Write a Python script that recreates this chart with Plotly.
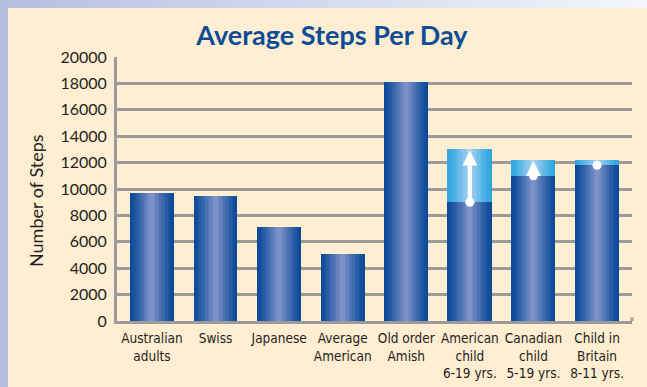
import plotly.graph_objects as go

# Chart data
categories = [
    "Australian<br>adults", "Swiss", "Japanese", "Average<br>American",
    "Old order<br>Amish", "American<br>child<br>6-19 yrs.",
    "Canadian<br>child<br>5-19 yrs.", "Child in<br>Britain<br>8-11 yrs.",
]
steps_low = [9700, 9500, 7100, 5100, 18100, 9000, 11000, 11800]
steps_high = [None, None, None, None, None, 13000, 12200, 12200]
y_ticks = [0, 2000, 4000, 6000, 8000, 10000, 12000, 14000, 16000, 18000, 20000]
y_tick_labels = [str(v) for v in y_ticks]

x_pos = list(range(len(categories)))
BAR_W = 0.69
N_STRIPS = 22


def lerp(c1, c2, t):
    return "rgb(%d,%d,%d)" % tuple(round(a + (b - a) * t) for a, b in zip(c1, c2))


def strip_color(i, edge, center):
    # light in the middle, darker toward both edges
    t = 1 - abs((i + 0.5) / N_STRIPS - 0.5) * 2
    return lerp(edge, center, t ** 1.2)


DARK_EDGE, DARK_CENTER = (8, 72, 152), (132, 149, 202)
LIGHT_EDGE, LIGHT_CENTER = (44, 165, 224), (172, 212, 243)

fig = go.Figure()
sw = BAR_W / N_STRIPS

# main bars as vertical gradient strips
for i in range(N_STRIPS):
    fig.add_trace(go.Bar(
        x=x_pos, y=steps_low, width=sw, offset=-BAR_W / 2 + i * sw,
        marker=dict(color=strip_color(i, DARK_EDGE, DARK_CENTER), line=dict(width=0)),
        hoverinfo="skip", showlegend=False,
    ))

# range extensions for the children's studies
range_x = [x for x, h in zip(x_pos, steps_high) if h is not None]
range_base = [l for l, h in zip(steps_low, steps_high) if h is not None]
range_top = [h for h in steps_high if h is not None]
range_len = [h - l for l, h in zip(range_base, range_top)]
for i in range(N_STRIPS):
    fig.add_trace(go.Bar(
        x=range_x, y=range_len, base=range_base, width=sw,
        offset=-BAR_W / 2 + i * sw,
        marker=dict(color=strip_color(i, LIGHT_EDGE, LIGHT_CENTER), line=dict(width=0)),
        hoverinfo="skip", showlegend=False,
    ))

# white dots at the low end of each range
fig.add_trace(go.Scatter(
    x=range_x, y=range_base, mode="markers",
    marker=dict(color="white", size=9, line=dict(width=0)),
    hoverinfo="skip", showlegend=False,
))

# white arrows pointing to the upper end of each range
for x, lo, hi in zip(range_x, range_base, range_top):
    fig.add_annotation(
        x=x, y=hi - 80, ax=x, ay=lo, xref="x", yref="y", axref="x", ayref="y",
        text="", showarrow=True, arrowhead=2, arrowsize=0.75, arrowwidth=4,
        arrowcolor="white", standoff=0, startstandoff=0,
    )

GRID = "#9b9b9b"
fig.update_layout(
    width=647, height=387,
    margin=dict(l=117, r=15, t=57, b=66),
    paper_bgcolor="#ffeed1", plot_bgcolor="#ffeed1",
    barmode="overlay", bargap=0,
    title=dict(
        text="<b>Average Steps Per Day</b>", x=0.513, xref="container",
        y=1 - 36 / 387, yref="container", xanchor="center", yanchor="middle",
        font=dict(family="Lato, Open Sans, sans-serif", size=27, color="#0e4c96"),
    ),
    xaxis=dict(
        range=[-0.55, 7.55], tickmode="array", tickvals=x_pos, ticktext=categories,
        showgrid=False, zeroline=False, showline=True, linecolor=GRID, linewidth=3,
        ticks="", ticklabelstandoff=3, automargin=False,
        tickfont=dict(family="Liberation Sans Narrow, DejaVu Sans Condensed, sans-serif",
                      size=13.5, color="#1e1e1e"),
    ),
    yaxis=dict(
        range=[0, 20000], tickmode="array", tickvals=y_ticks, ticktext=y_tick_labels,
        showgrid=True, gridcolor=GRID, gridwidth=3, zeroline=False, automargin=False,
        showline=True, linecolor=GRID, linewidth=3, ticks="", ticklabelstandoff=4,
        tickfont=dict(family="Lato, Open Sans, sans-serif", size=16, color="#231f20"),
    ),
    annotations=list(fig.layout.annotations) + [dict(
        text="Number of Steps", textangle=-90, xref="paper", yref="paper",
        x=(36 - 117) / 515, y=(321 - 201) / 264, xanchor="center", yanchor="middle",
        showarrow=False,
        font=dict(family="Lato, Open Sans, sans-serif", size=18, color="#231f20"),
    )],
)

# outer frame: lavender strip on the left, fading strip across the top
shapes = [dict(type="rect", xref="paper", yref="paper", layer="above",
               x0=-117 / 515, x1=(8 - 117) / 515, y0=-66 / 264, y1=(387 - 66) / 264,
               fillcolor="#b3bddf", line=dict(width=0))]
N_TOP = 40
for k in range(N_TOP):
    px0 = 8 + k * (639 / N_TOP)
    px1 = 8 + (k + 1) * (639 / N_TOP) + 0.5
    shapes.append(dict(
        type="rect", xref="paper", yref="paper", layer="above",
        x0=(px0 - 117) / 515, x1=(px1 - 117) / 515,
        y0=(321 - 8) / 264, y1=321 / 264,
        fillcolor=lerp((183, 192, 226), (243, 245, 251), k / (N_TOP - 1)),
        line=dict(width=0),
    ))
# small end tick on the baseline
shapes.append(dict(type="line", xref="paper", yref="y", x0=1, x1=1, y0=0, y1=280,
                   line=dict(color=GRID, width=3)))
fig.update_layout(shapes=shapes)

fig.write_html("out.html")
